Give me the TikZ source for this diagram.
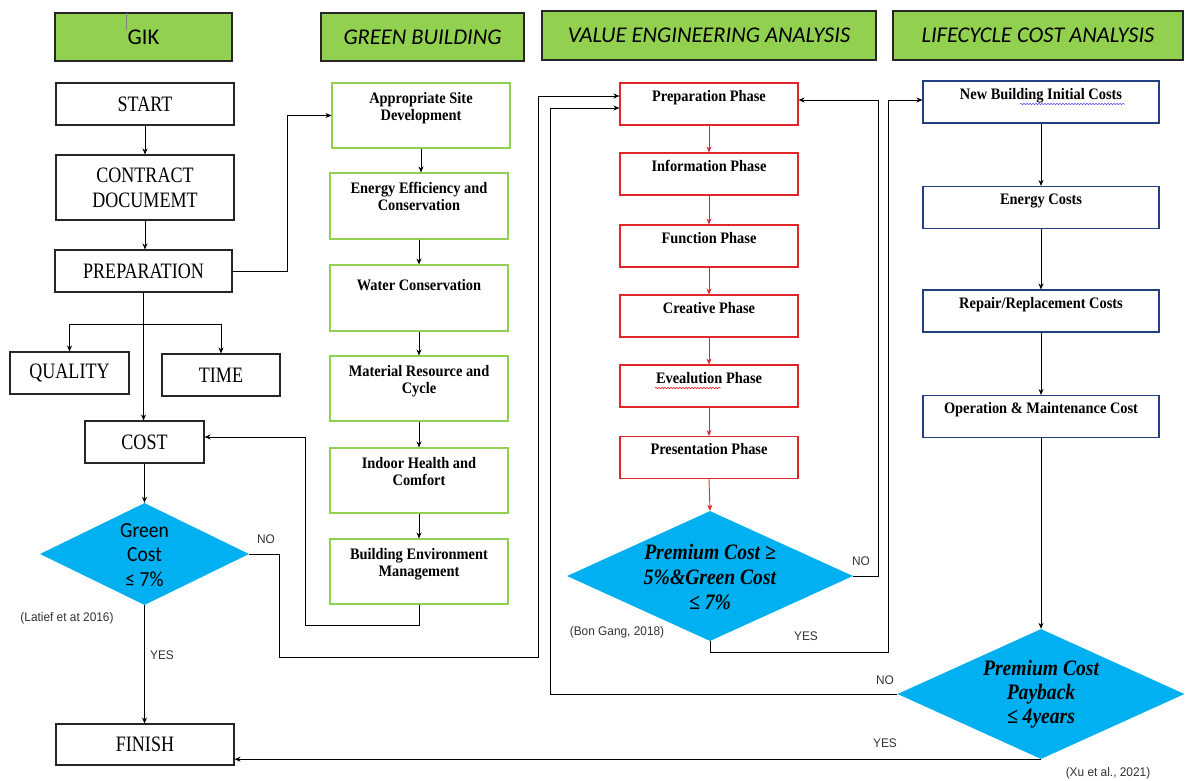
\documentclass[tikz,border=0pt]{standalone}
\usepackage{fontspec}
\setmainfont{Liberation Serif}
\newfontfamily\fLeft[FakeStretch=0.82]{Liberation Serif}
\newfontfamily\fBox[FakeStretch=0.9]{Liberation Serif}
\newfontfamily\fDia[FakeStretch=0.89]{Liberation Serif}
\newfontfamily\fCal{Carlito}
\newfontfamily\fCalS[FakeStretch=0.91]{Carlito}
\newfontfamily\fSmall[FakeStretch=0.95]{Liberation Sans}
\usetikzlibrary{shapes.geometric,arrows.meta,decorations.pathmorphing}
\definecolor{hdrgreen}{HTML}{92D050}
\definecolor{boxgreen}{HTML}{92D050}
\definecolor{boxred}{HTML}{E0262B}
\definecolor{boxblue}{HTML}{22407F}
\definecolor{diablue}{HTML}{00B0F0}
\tikzset{
  hdr/.style={draw=black!85, line width=1.3pt, fill=hdrgreen, inner sep=0pt, font=\fCal\fontsize{22.5}{26}\selectfont\itshape},
  lbox/.style={draw=black!85, line width=1.1pt, inner sep=0pt, align=center, font=\fLeft\fontsize{22}{25}\selectfont},
  gbox/.style={draw=boxgreen, line width=1.1pt, inner sep=0pt, minimum width=178pt},
  rbox/.style={draw=boxred, line width=1.1pt, inner sep=0pt, minimum width=178pt, minimum height=42pt},
  bbox/.style={draw=boxblue, line width=1.1pt, inner sep=0pt, minimum width=236pt, minimum height=42pt},
  btxt/.style={anchor=base, inner sep=0pt, font=\fBox\fontsize{16}{18}\selectfont\bfseries},
  dia/.style={diamond, fill=diablue, draw=none, inner sep=0pt},
  arr/.style={-{Stealth[length=6pt,width=5pt]}, line width=0.9pt, draw=black},
  rarr/.style={-{Stealth[length=6pt,width=5pt]}, line width=0.9pt, draw=boxred},
  conn/.style={line width=0.9pt, draw=black},
  lbl/.style={inner sep=0pt, text=black!80, font=\fSmall\fontsize{12.5}{14}\selectfont},
  wavy/.style={decorate, decoration={snake, amplitude=0.7pt, segment length=3pt}, line width=0.5pt}
}
\begin{document}
\begin{tikzpicture}[x=1pt,y=-1pt]
\useasboundingbox (0,0) rectangle (1186,780);
\fill[white] (0,0) rectangle (1186,780);

% headers
\node[hdr, minimum width=177pt, minimum height=48pt] (hgik) at (143.5,37) {\upshape GIK};
\node[hdr, minimum width=203pt, minimum height=48pt] (hgb) at (422.5,37) {GREEN BUILDING};
\node[hdr, minimum width=334pt, minimum height=49pt] (hve) at (709,35.5) {VALUE ENGINEERING ANALYSIS};
\node[hdr, minimum width=290pt, minimum height=49pt] (hlca) at (1038,35.5) {LIFECYCLE COST ANALYSIS};
\draw[gray, line width=0.8pt] (126,13) -- (126,30);

% left column
\node[lbox, minimum width=178pt, minimum height=42pt] (start) at (145,104) {START};
\node[lbox, minimum width=178pt, minimum height=65pt] (contract) at (145,187.5) {CONTRACT\\DOCUMEMT};
\node[lbox, minimum width=177pt, minimum height=42pt] (prep) at (143.5,271) {PREPARATION};
\node[lbox, minimum width=119pt, minimum height=42pt] (quality) at (69.5,373) {QUALITY};
\node[lbox, minimum width=118pt, minimum height=42pt] (time) at (221,375) {TIME};
\node[lbox, minimum width=119pt, minimum height=42pt] (cost) at (144.5,442) {COST};
\node[lbox, minimum width=178pt, minimum height=41pt] (finish) at (145,744.5) {FINISH};
\node[dia, minimum width=209pt, minimum height=102pt] (gdia) at (144.5,554) {};
\node[inner sep=0pt, align=center, font=\fCalS\fontsize{21.5}{24.5}\selectfont] (gdt) at (144.5,555) {Green\\Cost\\≤ 7\%};
\coordinate (br) at (143.5,324);

% green building column
\node[gbox, minimum height=65pt] (g1) at (421,115.5) {};
\node[gbox, minimum height=66pt] (g2) at (419,206) {};
\node[gbox, minimum height=66pt] (g3) at (419,298) {};
\node[gbox, minimum height=65pt] (g4) at (419,388.5) {};
\node[gbox, minimum height=65pt] (g5) at (419,480.5) {};
\node[gbox, minimum height=65pt] (g6) at (419,571.5) {};
\node[btxt] (g1a) at ([yshift=-21pt]g1.north) {Appropriate Site};
\node[btxt] (g1b) at ([yshift=-38pt]g1.north) {Development};
\node[btxt] (g2a) at ([yshift=-21pt]g2.north) {Energy Efficiency and};
\node[btxt] (g2b) at ([yshift=-38pt]g2.north) {Conservation};
\node[btxt] (g3a) at ([yshift=-26pt]g3.north) {Water Conservation};
\node[btxt] (g4a) at ([yshift=-21.5pt]g4.north) {Material Resource and};
\node[btxt] (g4b) at ([yshift=-38.5pt]g4.north) {Cycle};
\node[btxt] (g5a) at ([yshift=-21.5pt]g5.north) {Indoor Health and};
\node[btxt] (g5b) at ([yshift=-38.5pt]g5.north) {Comfort};
\node[btxt] (g6a) at ([yshift=-21.5pt]g6.north) {Building Environment};
\node[btxt] (g6b) at ([yshift=-38.5pt]g6.north) {Management};

% value engineering column
\node[rbox] (v1) at (709,104) {};
\node[rbox] (v2) at (709,174) {};
\node[rbox] (v3) at (709,246) {};
\node[rbox] (v4) at (709,316) {};
\node[rbox] (v5) at (709,386) {};
\node[rbox] (v6) at (709,457.5) {};
\node[btxt] (v1a) at ([yshift=-19pt]v1.north) {Preparation Phase};
\node[btxt] (v2a) at ([yshift=-19pt]v2.north) {Information Phase};
\node[btxt] (v3a) at ([yshift=-19pt]v3.north) {Function Phase};
\node[btxt] (v4a) at ([yshift=-19pt]v4.north) {Creative Phase};
\node[btxt] (v5a) at ([yshift=-19pt]v5.north) {Evealution Phase};
\node[btxt] (v6a) at ([yshift=-19pt]v6.north) {Presentation Phase};
\node[dia, minimum width=286pt, minimum height=130pt] (vdia) at (710,576) {};
\node[inner sep=0pt, align=center, font=\fDia\fontsize{22}{24.8}\selectfont\bfseries\itshape] (vdt) at (710,577) {Premium Cost ≥\\5\%\&Green Cost\\≤ 7\%};

% lifecycle column
\node[bbox] (l1) at (1041,102) {};
\node[bbox] (l2) at (1041,207.5) {};
\node[bbox] (l3) at (1041,311) {};
\node[bbox] (l4) at (1041,416.5) {};
\node[btxt] (l1a) at ([yshift=-19pt]l1.north) {New Building Initial Costs};
\node[btxt] (l2a) at ([yshift=-19pt]l2.north) {Energy Costs};
\node[btxt] (l3a) at ([yshift=-19pt]l3.north) {Repair/Replacement Costs};
\node[btxt] (l4a) at ([yshift=-19pt]l4.north) {Operation \& Maintenance Cost};
\node[dia, minimum width=287pt, minimum height=130pt] (ldia) at (1041,694) {};
\node[inner sep=0pt, align=center, font=\fDia\fontsize{22}{24}\selectfont\bfseries\itshape] (ldt) at (1041,694) {Premium Cost\\Payback\\≤ 4years};

% spell-check underlines
\draw[wavy, draw=blue!70] (1020,104) -- (1125,104);
\draw[wavy, draw=red] (655,388) -- (721,388);

% connectors left
\draw[arr] (start.south) -- (contract.north);
\draw[arr] (contract.south) -- (contract.south |- prep.north);
\draw[arr] (prep.east) -- (287,271) |- (g1.west);
\draw[arr] (prep.south) -- (prep.south |- cost.north);
\draw[arr] (br) -| (quality.north);
\draw[arr] (br) -| (time.north);
\draw[arr] (cost.south) -- (gdia.north);
\draw[arr] (gdia.south) -- (gdia.south |- finish.north);
\draw[arr] (gdia.east) -- (279,554) -- (279,657) -- (538,657) |- ([yshift=8pt]v1.west);

% green column
\draw[arr] (g1.south) -- (g1.south |- g2.north);
\draw[arr] (g2.south) -- (g3.north);
\draw[arr] (g3.south) -- (g4.north);
\draw[arr] (g4.south) -- (g5.north);
\draw[arr] (g5.south) -- (g6.north);
\draw[arr] (g6.south) -- (419,625) -- (305,625) |- ([yshift=5pt]cost.east);

% value engineering
\draw[rarr] (v1.south) -- (v2.north);
\draw[rarr] (v2.south) -- (v3.north);
\draw[rarr] (v3.south) -- (v4.north);
\draw[rarr] (v4.south) -- (v5.north);
\draw[rarr] (v5.south) -- (v6.north);
\draw[rarr] (v6.south) -- (vdia.north);
\draw[arr] (vdia.east) -- (878,576) |- ([yshift=4pt]v1.east);
\draw[arr] (vdia.south) -- (710,652) -- (888,652) |- ([yshift=2pt]l1.west);

% lifecycle
\draw[arr] (l1.south) -- (l2.north);
\draw[arr] (l2.south) -- (l3.north);
\draw[arr] (l3.south) -- (l4.north);
\draw[arr] (l4.south) -- (ldia.north);
\draw[arr] (ldia.west) -- (550,694) |- ([yshift=-4pt]v1.west);
\draw[arr] (ldia.south) -- (ldia.south -| finish.east);

% labels
\node[lbl] (no1) at (266,539) {NO};
\node[lbl] (yes1) at (162,655) {YES};
\node[lbl] (no2) at (861,561) {NO};
\node[lbl] (yes2) at (806,636) {YES};
\node[lbl] (no3) at (885,680) {NO};
\node[lbl] (yes3) at (885,743) {YES};
\node[lbl] (cit1) at (67,618) {(Latief et at 2016)};
\node[lbl] (cit2) at (617,632) {(Bon Gang, 2018)};
\node[lbl] (cit3) at (1108,773) {(Xu et al., 2021)};
\end{tikzpicture}
\end{document}
